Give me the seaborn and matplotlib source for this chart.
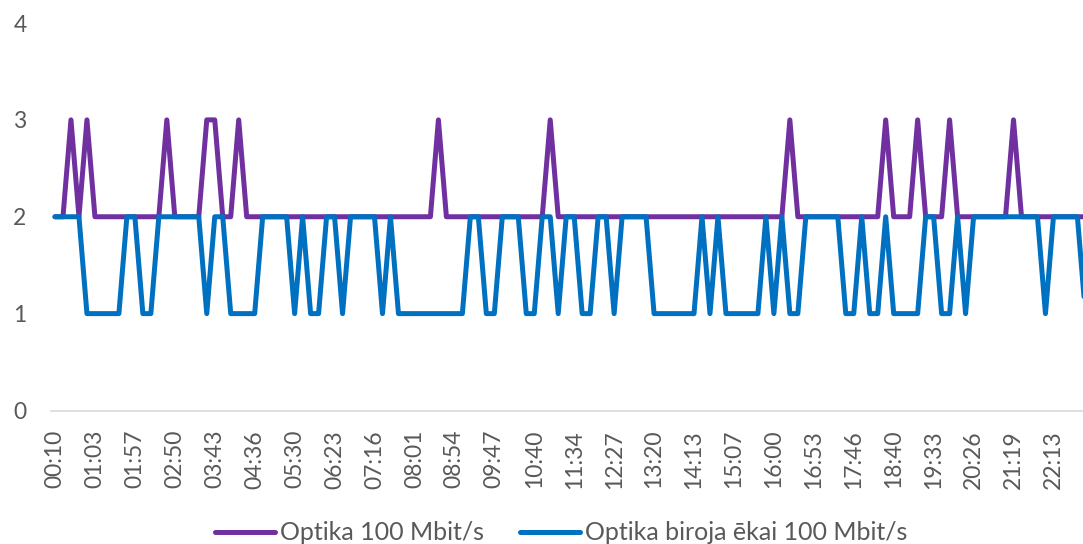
import matplotlib
matplotlib.use("Agg")
import matplotlib.pyplot as plt
import seaborn as sns
import pandas as pd

series_names = ["Optika 100 Mbit/s", "Optika biroja ēkai 100 Mbit/s"]
series_colors = ["#7030A0", "#0070C0"]

time_labels = [
    "00:10", "01:03", "01:57", "02:50", "03:43", "04:36", "05:30", "06:23",
    "07:16", "08:01", "08:54", "09:47", "10:40", "11:34", "12:27", "13:20",
    "14:13", "15:07", "16:00", "16:53", "17:46", "18:40", "19:33", "20:26",
    "21:19", "22:13",
]
label_every = 5

optika = [
    2, 2, 3, 2, 3, 2, 2, 2, 2, 2,
    2, 2, 2, 2, 3, 2, 2, 2, 2, 3,
    3, 2, 2, 3, 2, 2, 2, 2, 2, 2,
    2, 2, 2, 2, 2, 2, 2, 2, 2, 2,
    2, 2, 2, 2, 2, 2, 2, 2, 3, 2,
    2, 2, 2, 2, 2, 2, 2, 2, 2, 2,
    2, 2, 3, 2, 2, 2, 2, 2, 2, 2,
    2, 2, 2, 2, 2, 2, 2, 2, 2, 2,
    2, 2, 2, 2, 2, 2, 2, 2, 2, 2,
    2, 2, 3, 2, 2, 2, 2, 2, 2, 2,
    2, 2, 2, 2, 3, 2, 2, 2, 3, 2,
    2, 2, 3, 2, 2, 2, 2, 2, 2, 2,
    3, 2, 2, 2, 2, 2, 2, 2, 2, 2,
]

biroja = [
    2, 2, 2, 2, 1, 1, 1, 1, 1, 2,
    2, 1, 1, 2, 2, 2, 2, 2, 2, 1,
    2, 2, 1, 1, 1, 1, 2, 2, 2, 2,
    1, 2, 1, 1, 2, 2, 1, 2, 2, 2,
    2, 1, 2, 1, 1, 1, 1, 1, 1, 1,
    1, 1, 2, 2, 1, 1, 2, 2, 2, 1,
    1, 2, 2, 1, 2, 2, 1, 1, 2, 2,
    1, 2, 2, 2, 2, 1, 1, 1, 1, 1,
    1, 2, 1, 2, 1, 1, 1, 1, 1, 2,
    1, 2, 1, 1, 2, 2, 2, 2, 2, 1,
    1, 2, 1, 1, 2, 1, 1, 1, 1, 2,
    2, 1, 1, 2, 1, 2, 2, 2, 2, 2,
    2, 2, 2, 2, 1, 2, 2, 2, 2, 1,
]

sns.set_theme(style="white")
plt.rcParams["font.family"] = ["Lato", "DejaVu Sans"]

n = len(optika)
df = pd.DataFrame({
    "slot": list(range(n)) * 2,
    "value": optika + biroja,
    "series": [series_names[0]] * n + [series_names[1]] * n,
})

W, H = 1083, 544
fig = plt.figure(figsize=(W / 100, H / 100), dpi=100)
ax = fig.add_axes([51 / W, 133.5 / H, (W - 51) / W, 387.5 / H])

sns.lineplot(
    data=df, x="slot", y="value", hue="series", hue_order=series_names,
    palette=series_colors, estimator=None, linewidth=3.6, ax=ax,
)
for line in ax.lines:
    line.set_solid_joinstyle("round")
    line.set_solid_capstyle("round")

ax.set_xlim(-0.5, 128.7)
ax.set_ylim(0, 4)
ax.set_yticks([0, 1, 2, 3, 4])
ax.set_xticks(range(0, label_every * len(time_labels), label_every))
ax.set_xticklabels(time_labels, rotation=90)
ax.tick_params(axis="both", length=0, labelsize=16.5, labelcolor="#595959")
ax.tick_params(axis="x", pad=14)
ax.tick_params(axis="y", pad=17.6)
ax.set_xlabel("")
ax.set_ylabel("")
ax.grid(False)
for side in ["top", "right", "left"]:
    ax.spines[side].set_visible(False)
ax.spines["bottom"].set_color("#D9D9D9")
ax.spines["bottom"].set_linewidth(1.2)

handles, labels = ax.get_legend_handles_labels()
ax.get_legend().remove()
leg = fig.legend(
    handles, labels, loc="center", bbox_to_anchor=(561 / W, 1 - 533 / H),
    ncol=2, frameon=False, fontsize=18, handlelength=2.4,
    handletextpad=0.2, columnspacing=1.45, labelcolor="#595959",
)
for h in leg.get_lines():
    h.set_linewidth(3.6)
    h.set_solid_capstyle("round")

fig.savefig("out.png", dpi=100)
